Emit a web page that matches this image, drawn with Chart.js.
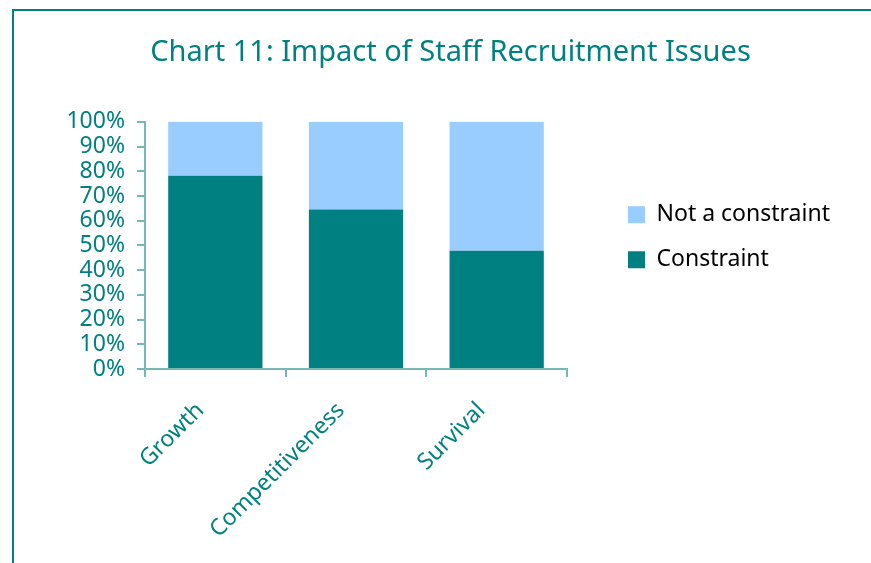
<!DOCTYPE html>
<html>
<head>
<meta charset="utf-8">
<script src="https://cdn.jsdelivr.net/npm/chart.js@4"></script>
<style>
    html, body { margin: 0; padding: 0; background: #fff; overflow: hidden; }
    #frame {
        position: absolute; left: 12px; top: 9px; width: 900px; height: 600px;
        border-left: 2px solid #008080; border-top: 2px solid #008080;
    }
    #wrap { position: absolute; left: 0; top: 0; width: 871px; height: 563px; }
</style>
</head>
<body>
<div id="frame"></div>
<div id="wrap"><canvas id="recruitChart"></canvas></div>
<script>
// Share of firms (%) for each area of impact
const categories = ['Growth', 'Competitiveness', 'Survival'];
const constraintPct = [78.2, 64.5, 47.8];
const notConstraintPct = [21.8, 35.5, 52.2];
const yTicks = [0, 10, 20, 30, 40, 50, 60, 70, 80, 90, 100];

const teal = '#008080';
const lightBlue = '#99ccff';
const axisTeal = '#74b9b6';
const fontFamily = '"Noto Sans", sans-serif';

document.addEventListener('DOMContentLoaded', function() {
    const ctx = document.getElementById('recruitChart');

    new Chart(ctx, {
        type: 'bar',
        data: {
            labels: categories,
            datasets: [
                {
                    label: 'Constraint',
                    data: constraintPct,
                    backgroundColor: teal,
                    borderWidth: 0,
                    barPercentage: 0.67,
                    categoryPercentage: 1.0
                },
                {
                    label: 'Not a constraint',
                    data: notConstraintPct,
                    backgroundColor: lightBlue,
                    borderWidth: 0,
                    barPercentage: 0.67,
                    categoryPercentage: 1.0
                }
            ]
        },
        options: {
            responsive: true,
            maintainAspectRatio: false,
            animation: false,
            layout: {
                padding: { left: 65, right: 35, top: 0, bottom: 0 }
            },
            plugins: {
                title: {
                    display: true,
                    text: 'Chart 11: Impact of Staff Recruitment Issues',
                    color: teal,
                    font: { family: fontFamily, size: 29, weight: 'normal' },
                    padding: { top: 35, bottom: 52 }
                },
                legend: {
                    position: 'right',
                    align: 'start',
                    fullSize: false,
                    reverse: true,
                    maxWidth: 230,
                    title: {
                        display: true,
                        text: '',
                        font: { size: 12 },
                        padding: { top: 45, bottom: 0 }
                    },
                    labels: {
                        boxWidth: 17,
                        boxHeight: 17,
                        padding: 22,
                        color: '#000',
                        font: { family: fontFamily, size: 23 }
                    }
                },
                tooltip: { enabled: false }
            },
            scales: {
                x: {
                    stacked: true,
                    offset: true,
                    border: { color: axisTeal, width: 2 },
                    grid: {
                        offset: true,
                        drawOnChartArea: false,
                        drawTicks: true,
                        tickLength: 8,
                        color: axisTeal,
                        lineWidth: 2
                    },
                    ticks: {
                        color: teal,
                        font: { family: fontFamily, size: 23 },
                        minRotation: 45,
                        maxRotation: 45,
                        padding: 20,
                        labelOffset: -15
                    },
                    afterFit: function(scale) { scale.height = 194; }
                },
                y: {
                    stacked: true,
                    min: 0,
                    max: 100,
                    border: { color: axisTeal, width: 2 },
                    grid: {
                        drawOnChartArea: false,
                        drawTicks: true,
                        tickLength: 8,
                        color: axisTeal,
                        lineWidth: 2
                    },
                    afterBuildTicks: function(scale) {
                        scale.ticks = yTicks.map(v => ({ value: v }));
                    },
                    ticks: {
                        color: teal,
                        padding: 12,
                        autoSkip: false,
                        font: { family: fontFamily, size: 23 },
                        callback: function(value) { return value + '%'; }
                    },
                    afterFit: function(scale) { scale.width = 80; }
                },
                // empty strip between the plot and the legend
                gap: {
                    type: 'linear',
                    position: 'right',
                    display: true,
                    grid: { display: false },
                    border: { display: false },
                    ticks: { display: false },
                    afterFit: function(scale) { scale.width = 39; }
                }
            }
        }
    });
});
</script>
</body>
</html>
